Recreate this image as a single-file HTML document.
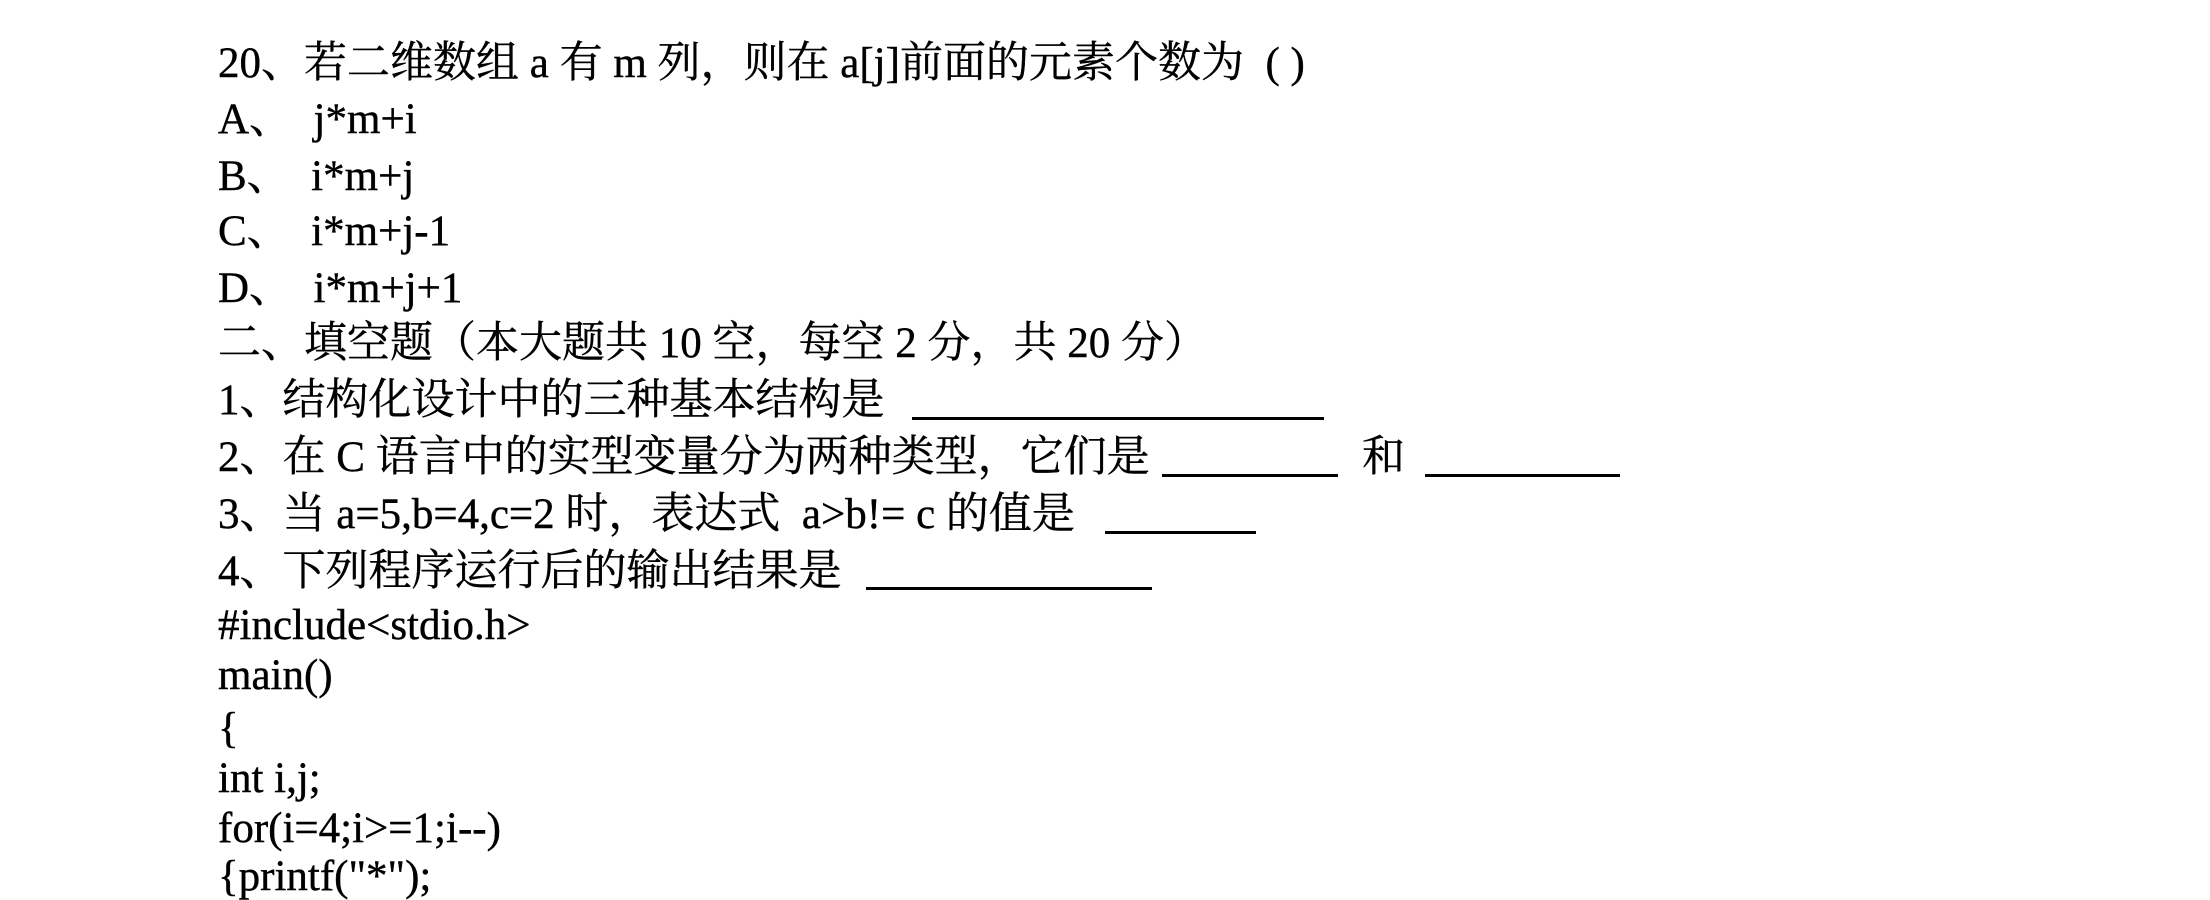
<!DOCTYPE html>
<html><head><meta charset="utf-8"><style>
html,body{margin:0;padding:0;background:#fff;width:2210px;height:900px;overflow:hidden;position:relative}
.l{position:absolute;left:218px;font-family:"Liberation Serif","Noto Serif CJK SC",serif;font-size:43px;line-height:44px;color:#000;white-space:pre;-webkit-text-stroke:0.4px #000}
.u{position:absolute;height:3px;background:#000}
</style></head><body>
<div class="l" style="top:42px">20、若二维数组 a 有 m 列，则在 a[j]前面的元素个数为  ( )</div>
<div class="l" style="top:98px">A、  j*m+i</div>
<div class="l" style="top:155px">B、  i*m+j</div>
<div class="l" style="top:210px">C、  i*m+j-1</div>
<div class="l" style="top:267px">D、  i*m+j+1</div>
<div class="l" style="top:322px">二、填空题（本大题共 10 空，每空 2 分，共 20 分）</div>
<div class="l" style="top:379px">1、结构化设计中的三种基本结构是</div>
<div class="u" style="left:912px;width:412px;top:417px"></div>
<div class="l" style="top:436px">2、在 C 语言中的实型变量分为两种类型，它们是</div>
<div class="u" style="left:1162px;width:176px;top:474px"></div>
<div class="l" style="top:436px;left:1362px">和</div>
<div class="u" style="left:1425px;width:195px;top:474px"></div>
<div class="l" style="top:493px">3、当 a=5,b=4,c=2 时，表达式  a&gt;b!= c 的值是</div>
<div class="u" style="left:1105px;width:151px;top:531px"></div>
<div class="l" style="top:550px">4、下列程序运行后的输出结果是</div>
<div class="u" style="left:866px;width:286px;top:587px"></div>
<div class="l" style="top:604px">#include&lt;stdio.h&gt;</div>
<div class="l" style="top:654px">main()</div>
<div class="l" style="top:707px">{</div>
<div class="l" style="top:757px">int i,j;</div>
<div class="l" style="top:807px">for(i=4;i&gt;=1;i--)</div>
<div class="l" style="top:855px">{printf("*");</div>
</body></html>
